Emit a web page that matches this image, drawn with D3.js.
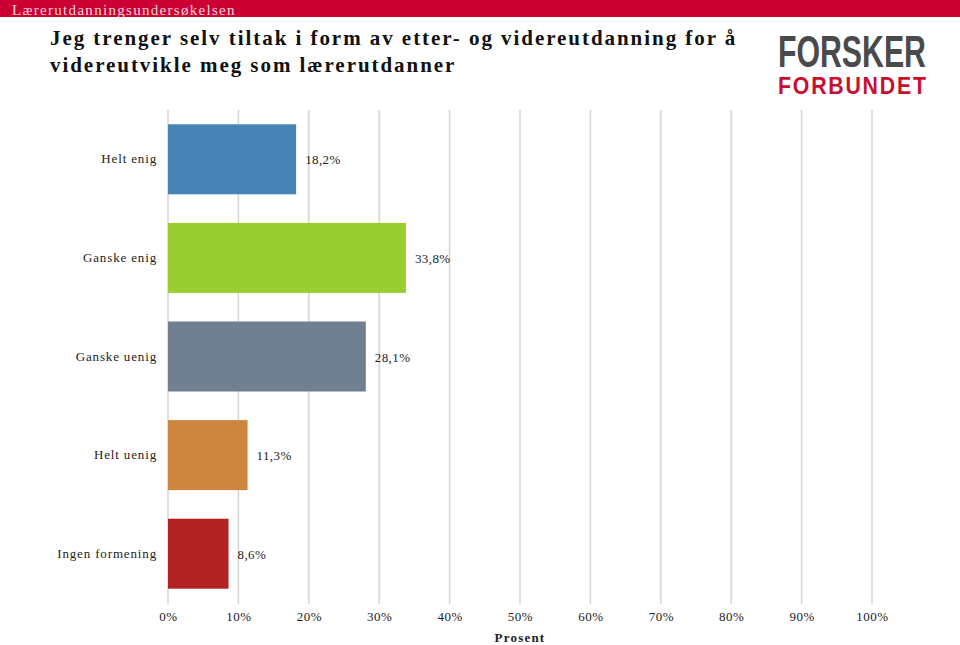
<!DOCTYPE html>
<html><head><meta charset="utf-8">
<script src="https://cdn.jsdelivr.net/npm/d3@7"></script>
<style>body{margin:0;background:#fff}svg{display:block}</style>
</head><body>
<svg id="c" width="960" height="645"></svg>
<script>
const categories = ["Helt enig","Ganske enig","Ganske uenig","Helt uenig","Ingen formening"];
const values = [18.2, 33.8, 28.1, 11.3, 8.6];
const labels = ["18,2%","33,8%","28,1%","11,3%","8,6%"];
const colors = ["#4682b4","#9acd32","#708090","#cd853f","#b22222"];
const ticks = [0,10,20,30,40,50,60,70,80,90,100];

const svg = d3.select("#c");
const serif = "'Liberation Serif','DejaVu Serif',serif";

// header band
svg.append("rect").attr("x",0).attr("y",0).attr("width",960).attr("height",17).attr("fill","#cc0033");
svg.append("text").attr("x",12).attr("y",15).attr("font-family",serif).attr("font-size",15)
  .attr("fill","#f3d6dc").attr("letter-spacing",1.3).text("Lærerutdanningsundersøkelsen");

// title
const tt = svg.append("text").attr("font-family",serif).attr("font-size",21).attr("font-weight","bold")
  .attr("fill","#111").attr("letter-spacing",1.95);
tt.append("tspan").attr("x",50).attr("y",45).text("Jeg trenger selv tiltak i form av etter- og videreutdanning for å");
tt.append("tspan").attr("x",50).attr("y",72).text("videreutvikle meg som lærerutdanner");

// logo (scaled horizontally to fit)
function logoText(str, y, size, fill, width, family, ls){
  const g = svg.append("g").attr("transform",`translate(778,${y})`);
  const t = g.append("text").attr("x",0).attr("y",0).attr("font-family",family)
    .attr("font-weight","bold").attr("font-size",size).attr("fill",fill).attr("letter-spacing",ls).text(str);
  const w = t.node().getComputedTextLength() - ls;
  t.attr("transform",`scale(${width/w},1)`);
}
logoText("FORSKER", 67, 44, "#4a4a4c", 148, "'Liberation Sans Narrow','Liberation Sans',sans-serif", 0);
logoText("FORBUNDET", 94, 24, "#c8102e", 148, "'Liberation Sans','DejaVu Sans',sans-serif", 2);

const x = d3.scaleLinear().domain([0,100]).range([168,872]);
const y = d3.scaleBand().domain(categories).range([110,603]).paddingInner(0.29).paddingOuter(0.145);

// gridlines
svg.append("g").selectAll("line").data(ticks).join("line")
  .attr("x1",d=>x(d)).attr("x2",d=>x(d)).attr("y1",110).attr("y2",604)
  .attr("stroke","#d4d4d4").attr("stroke-width",1.5);

// bars
svg.append("g").selectAll("rect").data(values).join("rect")
  .attr("x",x(0)).attr("y",(d,i)=>y(categories[i])).attr("width",d=>x(d)-x(0))
  .attr("height",y.bandwidth()).attr("fill",(d,i)=>colors[i]);

// value labels
svg.append("g").selectAll("text").data(values).join("text")
  .attr("x",d=>x(d)+9).attr("y",(d,i)=>y(categories[i])+y.bandwidth()/2+5)
  .attr("font-family",serif).attr("font-size",13).attr("fill","#222").attr("letter-spacing",0.4)
  .text((d,i)=>labels[i]);

// category labels
const ya = d3.axisLeft(y).tickSize(0).tickPadding(0);
const gy = svg.append("g").attr("transform","translate(157,0)").call(ya);
gy.select(".domain").remove();
gy.selectAll("text").attr("font-family",serif).attr("font-size",13).attr("fill","#222").attr("letter-spacing",0.85).attr("dy","0.32em");

// x axis tick labels
const xa = d3.axisBottom(x).tickValues(ticks).tickSize(0).tickPadding(0).tickFormat(d=>d+"%");
const gx = svg.append("g").attr("transform","translate(0,612)").call(xa);
gx.select(".domain").remove();
gx.selectAll("text").attr("font-family",serif).attr("font-size",13).attr("fill","#222").attr("letter-spacing",0.5);

svg.append("text").attr("x",520).attr("y",642).attr("text-anchor","middle").attr("font-family",serif)
  .attr("font-size",13).attr("font-weight","bold").attr("fill","#222").attr("letter-spacing",1.2).text("Prosent");
</script>
</body></html>
